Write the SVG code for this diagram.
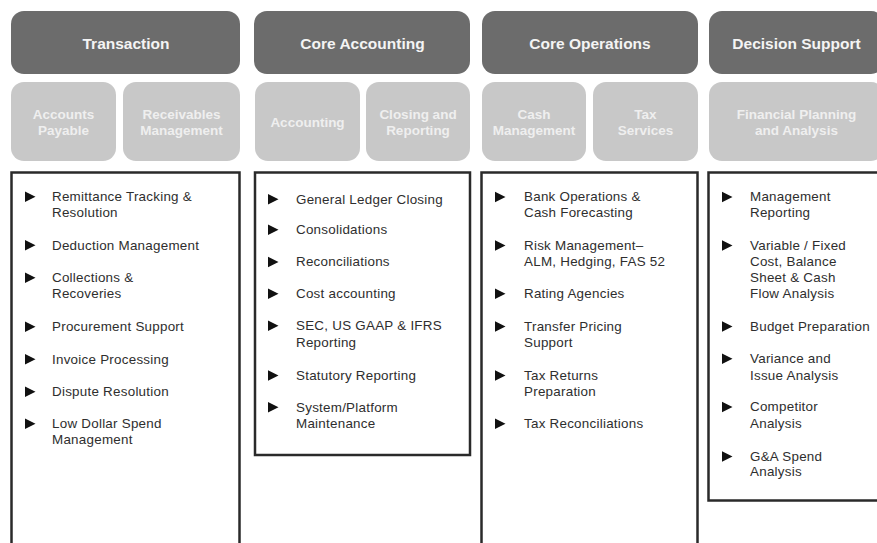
<svg xmlns="http://www.w3.org/2000/svg" width="877" height="543" viewBox="0 0 877 543">
<defs>
<style>
.hdr{fill:#6c6c6c}
.sub{fill:#c8c8c8}
.ht{font-family:"Liberation Sans",Arial,sans-serif;font-weight:bold;font-size:15.5px;fill:#f4f4f4;text-anchor:middle}
.st{font-family:"Liberation Sans",Arial,sans-serif;font-weight:bold;font-size:13.5px;fill:#efefef;text-anchor:middle}
.box{fill:#fff;stroke:#2a2a2a;stroke-width:2.5}
.li{font-family:"Liberation Sans",Arial,sans-serif;font-size:13.4px;letter-spacing:0.25px;fill:#2e2e2e}
.bu{fill:#111}
</style>
<path id="tri" d="M0,-9.5 L10.5,-4.2 L0,1 Z"/>
</defs>
<rect width="877" height="543" fill="#fff"/>

<g id="col-transaction">
<rect class="hdr" x="11" y="11" width="229" height="63" rx="13"/>
<text class="ht" x="126" y="48.5">Transaction</text>
<g id="accounts-payable">
<rect class="sub" x="11" y="82" width="105" height="79" rx="13"/>
<text class="st" x="63.5" y="119">Accounts</text>
<text class="st" x="63.5" y="135">Payable</text>
</g>
<g id="receivables-management">
<rect class="sub" x="123" y="82" width="117" height="79" rx="13"/>
<text class="st" x="181.5" y="119">Receivables</text>
<text class="st" x="181.5" y="135">Management</text>
</g>
<g id="transaction-list">
<rect class="box" x="11.5" y="172.5" width="228" height="400"/>
<use href="#tri" class="bu" x="25" y="201"/>
<text class="li" x="52" y="201">Remittance Tracking &amp;</text>
<text class="li" x="52" y="217">Resolution</text>
<use href="#tri" class="bu" x="25" y="249.5"/>
<text class="li" x="52" y="249.5">Deduction Management</text>
<use href="#tri" class="bu" x="25" y="282"/>
<text class="li" x="52" y="282">Collections &amp;</text>
<text class="li" x="52" y="298">Recoveries</text>
<use href="#tri" class="bu" x="25" y="331"/>
<text class="li" x="52" y="331">Procurement Support</text>
<use href="#tri" class="bu" x="25" y="363.5"/>
<text class="li" x="52" y="363.5">Invoice Processing</text>
<use href="#tri" class="bu" x="25" y="396"/>
<text class="li" x="52" y="396">Dispute Resolution</text>
<use href="#tri" class="bu" x="25" y="428"/>
<text class="li" x="52" y="428">Low Dollar Spend</text>
<text class="li" x="52" y="444">Management</text>
</g>
</g>

<g id="col-core-accounting">
<rect class="hdr" x="254" y="11" width="216" height="63" rx="13"/>
<text class="ht" x="362.5" y="48.5">Core Accounting</text>
<g id="accounting">
<rect class="sub" x="255" y="82" width="105" height="79" rx="13"/>
<text class="st" x="307.5" y="127">Accounting</text>
</g>
<g id="closing-reporting">
<rect class="sub" x="366" y="82" width="104" height="79" rx="13"/>
<text class="st" x="418" y="119">Closing and</text>
<text class="st" x="418" y="135">Reporting</text>
</g>
<g id="core-accounting-list">
<rect class="box" x="255" y="172.5" width="215" height="282.5"/>
<use href="#tri" class="bu" x="268" y="203.5"/>
<text class="li" x="296" y="203.5">General Ledger Closing</text>
<use href="#tri" class="bu" x="268" y="234"/>
<text class="li" x="296" y="234">Consolidations</text>
<use href="#tri" class="bu" x="268" y="266.3"/>
<text class="li" x="296" y="266.3">Reconciliations</text>
<use href="#tri" class="bu" x="268" y="298"/>
<text class="li" x="296" y="298">Cost accounting</text>
<use href="#tri" class="bu" x="268" y="330"/>
<text class="li" x="296" y="330">SEC, US GAAP &amp; IFRS</text>
<text class="li" x="296" y="346.5">Reporting</text>
<use href="#tri" class="bu" x="268" y="379.7"/>
<text class="li" x="296" y="379.7">Statutory Reporting</text>
<use href="#tri" class="bu" x="268" y="411.5"/>
<text class="li" x="296" y="411.5">System/Platform</text>
<text class="li" x="296" y="428">Maintenance</text>
</g>
</g>

<g id="col-core-operations">
<rect class="hdr" x="482" y="11" width="216" height="63" rx="13"/>
<text class="ht" x="590" y="48.5">Core Operations</text>
<g id="cash-management">
<rect class="sub" x="482" y="82" width="104" height="79" rx="13"/>
<text class="st" x="534" y="119">Cash</text>
<text class="st" x="534" y="135">Management</text>
</g>
<g id="tax-services">
<rect class="sub" x="593" y="82" width="105" height="79" rx="13"/>
<text class="st" x="645.5" y="119">Tax</text>
<text class="st" x="645.5" y="135">Services</text>
</g>
<g id="core-operations-list">
<rect class="box" x="481.5" y="172.5" width="216" height="400"/>
<use href="#tri" class="bu" x="495" y="201.3"/>
<text class="li" x="524" y="201.3">Bank Operations &amp;</text>
<text class="li" x="524" y="217.3">Cash Forecasting</text>
<use href="#tri" class="bu" x="495" y="249.7"/>
<text class="li" x="524" y="249.7">Risk Management–</text>
<text class="li" x="524" y="265.5">ALM, Hedging, FAS 52</text>
<use href="#tri" class="bu" x="495" y="298"/>
<text class="li" x="524" y="298">Rating Agencies</text>
<use href="#tri" class="bu" x="495" y="330.7"/>
<text class="li" x="524" y="330.7">Transfer Pricing</text>
<text class="li" x="524" y="347">Support</text>
<use href="#tri" class="bu" x="495" y="379.7"/>
<text class="li" x="524" y="379.7">Tax Returns</text>
<text class="li" x="524" y="396.3">Preparation</text>
<use href="#tri" class="bu" x="495" y="428"/>
<text class="li" x="524" y="428">Tax Reconciliations</text>
</g>
</g>

<g id="col-decision-support">
<rect class="hdr" x="709" y="11" width="175" height="63" rx="13"/>
<text class="ht" x="796.5" y="48.5">Decision Support</text>
<g id="financial-planning">
<rect class="sub" x="709" y="82" width="175" height="79" rx="13"/>
<text class="st" x="796.5" y="119">Financial Planning</text>
<text class="st" x="796.5" y="135">and Analysis</text>
</g>
<g id="decision-support-list">
<rect class="box" x="708.5" y="172.5" width="180" height="328"/>
<use href="#tri" class="bu" x="722" y="201.3"/>
<text class="li" x="750" y="201.3">Management</text>
<text class="li" x="750" y="217.3">Reporting</text>
<use href="#tri" class="bu" x="722" y="249.7"/>
<text class="li" x="750" y="249.7">Variable / Fixed</text>
<text class="li" x="750" y="265.7">Cost, Balance</text>
<text class="li" x="750" y="282">Sheet &amp; Cash</text>
<text class="li" x="750" y="298">Flow Analysis</text>
<use href="#tri" class="bu" x="722" y="330.7"/>
<text class="li" x="750" y="330.7">Budget Preparation</text>
<use href="#tri" class="bu" x="722" y="363"/>
<text class="li" x="750" y="363">Variance and</text>
<text class="li" x="750" y="379.7">Issue Analysis</text>
<use href="#tri" class="bu" x="722" y="411.3"/>
<text class="li" x="750" y="411.3">Competitor</text>
<text class="li" x="750" y="428">Analysis</text>
<use href="#tri" class="bu" x="722" y="460.7"/>
<text class="li" x="750" y="460.7">G&amp;A Spend</text>
<text class="li" x="750" y="476.3">Analysis</text>
</g>
</g>

<g id="connectors"/>
</svg>
